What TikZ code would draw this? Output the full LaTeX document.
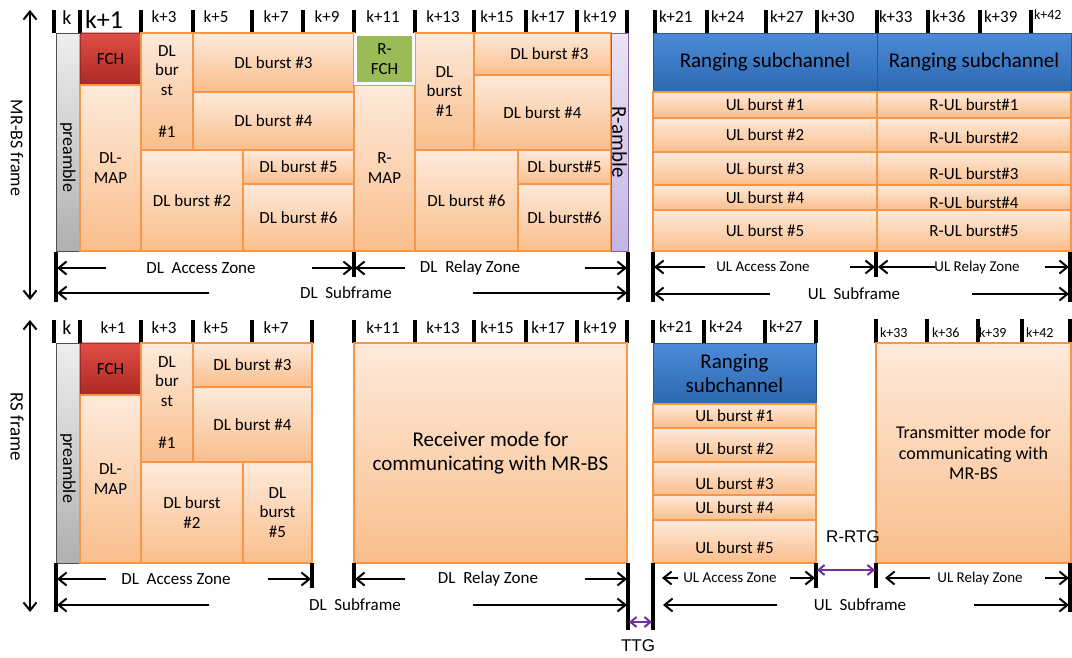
\documentclass[tikz,border=0pt]{standalone}
\usepackage{fontspec}
\setmainfont{Carlito}
\newfontfamily\arialfont{Liberation Sans}
\usetikzlibrary{arrows.meta}

\definecolor{orline}{RGB}{247,150,70}
\definecolor{ortop}{RGB}{253,234,219}
\definecolor{orbot}{RGB}{250,190,140}
\definecolor{fchtop}{RGB}{224,78,68}
\definecolor{fchbot}{RGB}{172,40,36}
\definecolor{fchline}{RGB}{140,30,30}
\definecolor{rfchgreen}{RGB}{155,187,89}
\definecolor{rngtop}{RGB}{76,139,216}
\definecolor{rngbot}{RGB}{44,104,176}
\definecolor{rngline}{RGB}{40,88,150}
\definecolor{pretop}{RGB}{238,238,238}
\definecolor{prebot}{RGB}{176,176,176}
\definecolor{preline}{RGB}{80,80,80}
\definecolor{ramtop}{RGB}{234,228,244}
\definecolor{rambot}{RGB}{196,180,226}
\definecolor{ramline}{RGB}{128,100,162}
\definecolor{gappurple}{RGB}{112,48,160}

% one block of the frame: name, x1, y1, x2, y2, style, text
\newcommand\blk[7]{%
  \pgfmathsetmacro\blkw{#4-#2}%
  \pgfmathsetmacro\blkh{#5-#3}%
  \node[#6, anchor=north west, minimum width=\blkw pt, minimum height=\blkh pt] (#1) at (#2,#3) {#7};}

% a zone dimension: name, y, left tip, left tail, right tail, right tip, label x, label style, text
\newcommand\dimpair[9]{%
  \coordinate (#1-lt) at (#3,#2);
  \coordinate (#1-lb) at (#4,#2);
  \coordinate (#1-rb) at (#5,#2);
  \coordinate (#1-rt) at (#6,#2);
  \node[#8] (#1) at (#7,#2) {#9};
  \draw[dimarr] (#1-lb) -- (#1-lt);
  \draw[dimarr] (#1-rb) -- (#1-rt);}

\tikzset{
  every node/.style={inner sep=0pt, outer sep=0pt},
  fs/.style={font=\linespread{1.15}\fontsize{#1}{#1}\selectfont},
  blk/.style={draw=orline, line width=1.2pt, top color=ortop, bottom color=orbot, align=center, fs=17},
  bigblk/.style={blk, fs=21},
  fchbox/.style={draw=fchline, line width=1pt, top color=fchtop, bottom color=fchbot, rounded corners=2pt, fs=17},
  rfchbox/.style={draw=white, line width=3.5pt, fill=rfchgreen, align=center, fs=17},
  rngbox/.style={draw=rngline, line width=0.8pt, top color=rngtop, bottom color=rngbot, align=center, fs=21},
  prebox/.style={draw=preline, line width=1pt, top color=pretop, bottom color=prebot},
  rambox/.style={draw=ramline, line width=1pt, top color=ramtop, bottom color=rambot},
  tick/.style={line width=3.5pt},
  dimbar/.style={line width=3.5pt},
  dimarr/.style={line width=2pt, -{Straight Barb[length=8pt,width=13pt]}},
  gaparr/.style={draw=gappurple, line width=2pt, {Straight Barb[length=6pt,width=10pt]}-{Straight Barb[length=6pt,width=10pt]}},
  framearr/.style={line width=2pt, {Straight Barb[length=8pt,width=13pt]}-{Straight Barb[length=8pt,width=13pt]}},
  lab/.style={fs=17},
  smalllab/.style={fs=15},
  klab/.style={fs=17},
  ksmall/.style={fs=14},
  gaplab/.style={font=\arialfont\fontsize{17}{20}\selectfont},
}

\begin{document}
\begin{tikzpicture}[x=1pt,y=-1pt]
\useasboundingbox (0,0) rectangle (1072,657);

% ---------- frame arrows on the left ----------
\coordinate (fa1t) at (30,10);
\coordinate (fa1b) at (30,300);
\draw[framearr] (fa1t) -- (fa1b);
\node[fs=18, rotate=-90] (mrbs) at (17,148) {MR-BS frame};
\coordinate (fa2t) at (30,320);
\coordinate (fa2b) at (30,612);
\draw[framearr] (fa2t) -- (fa2b);
\node[fs=19, rotate=-90] (rsf) at (17,427) {RS frame};

% ================= MR-BS frame =================
% symbol ticks
\foreach \x in {54,80,141,193,252,303,354,415,474,526,577,627,655,707,766,817,877,928,980,1031}
  \draw[tick] (\x,10) -- (\x,33);
\node[fs=20] (ta0) at (67,18) {k};
\node[fs=26] (ta1) at (104,19) {k+1};
\foreach \x/\t [count=\i] in {164/k+3,216/k+5,276/k+7,327/k+9,383/k+11,443/k+13,497/k+15,548/k+17,600/k+19}
  \node[klab] (tb\i) at (\x,17) {\t};
\foreach \x/\t [count=\i] in {659/k+21,711/k+24,770/k+27,821/k+30,879/k+33,932/k+36,984/k+39}
  \node[klab, anchor=west] (tc\i) at (\x,17) {\t};
\node[ksmall, anchor=west] (tc8) at (1034,15) {k+42};

% DL access zone
\blk{pre1}{56}{33}{80}{251}{prebox}{}
\node[fs=18, rotate=-90] (pre1t) at ([yshift=-15pt]pre1.center) {preamble};
\blk{fch1}{80}{33}{141}{85}{fchbox}{FCH}
\blk{map1}{80}{85}{141}{251}{blk}{DL-\\MAP}
\blk{b1a}{141}{33}{193}{150}{blk}{DL\\bur\\st\\[23pt]\#1}
\blk{b3a}{193}{33}{354}{92}{blk}{DL burst \#3}
\blk{b4a}{193}{92}{354}{150}{blk}{DL burst \#4}
\blk{b2a}{141}{150}{243}{251}{blk}{DL burst \#2}
\blk{b5a}{243}{150}{354}{184}{blk}{DL burst \#5}
\blk{b6a}{243}{184}{354}{251}{blk}{DL burst \#6}

% DL relay zone
\blk{rmap1}{354}{85}{415}{251}{blk}{R-\\MAP}
\blk{rb1}{415}{33}{474}{150}{blk}{DL\\burst\\\#1}
\blk{rb3}{474}{33}{611}{75}{blk}{\hspace*{14pt}DL burst \#3}
\blk{rb4}{474}{75}{611}{150}{blk}{DL burst \#4}
\blk{rb6}{415}{150}{518}{251}{blk}{DL burst \#6}
\blk{rb5r}{518}{150}{611}{184}{blk}{DL burst\#5}
\blk{rb6r}{518}{184}{611}{251}{blk}{DL burst\#6}
\blk{ramb}{611}{33}{628}{251}{rambox}{}
\node[fs=21, rotate=-90] (rambt) at (ramb.center) {R-amble};
\blk{rfch}{355.5}{34.5}{413.5}{83.5}{rfchbox}{R-\\FCH}

% UL access and relay zones
\blk{rng1}{653}{33}{877}{92}{rngbox}{Ranging subchannel}
\blk{rng2}{877}{33}{1071}{92}{rngbox}{Ranging subchannel}
\blk{ul1}{653}{92}{877}{118}{blk}{UL burst \#1}
\blk{ul2}{653}{118}{877}{152}{blk}{UL burst \#2}
\blk{ul3}{653}{152}{877}{185}{blk}{UL burst \#3}
\blk{ul4}{653}{185}{877}{210}{blk}{UL burst \#4}
\blk{ul5}{653}{210}{877}{251}{blk}{UL burst \#5}
\blk{rul1}{877}{92}{1071}{118}{blk}{R-UL burst\#1}
\blk{rul2}{877}{118}{1071}{152}{blk}{}
\node[lab] (rul2t) at ([yshift=-3pt]rul2.center) {R-UL burst\#2};
\blk{rul3}{877}{152}{1071}{185}{blk}{}
\node[lab] (rul3t) at ([yshift=-5pt]rul3.center) {R-UL burst\#3};
\blk{rul4}{877}{185}{1071}{210}{blk}{}
\node[lab] (rul4t) at ([yshift=-5pt]rul4.center) {R-UL burst\#4};
\blk{rul5}{877}{210}{1071}{251}{blk}{R-UL burst\#5}

% zone dimensions
\foreach \x/\ya/\yb in {56/252/302,354/252/277,628/252/302,653/252/302,876/252/277,1070/252/302}
  \draw[dimbar] (\x,\ya) -- (\x,\yb);
\dimpair{dza}{268}{57}{106}{312}{353}{201}{lab}{DL\ \ Access Zone}
\dimpair{dzr}{268}{355}{405}{585}{627}{470}{lab}{DL\ \ Relay Zone}
\dimpair{dsf}{293}{57}{209}{473}{627}{346}{lab}{DL\ \ Subframe}
\dimpair{uza}{267}{654}{705}{850}{875}{763}{smalllab}{UL Access Zone}
\dimpair{uzr}{267}{878}{935}{1045}{1069}{977}{smalllab}{UL Relay Zone}
\dimpair{usf}{294}{654}{770}{972}{1069}{854}{lab}{UL\ \ Subframe}

% ================= RS frame =================
\foreach \x in {54,80,141,193,252,312,354,415,474,526,577,627,653,704,765,816}
  \draw[tick] (\x,320) -- (\x,343);
\foreach \x in {876,927,978,1022,1070}
  \draw[tick] (\x,319) -- (\x,343);
\node[fs=20] (sa0) at (67,328) {k};
\foreach \x/\t [count=\i] in {113/k+1,164/k+3,216/k+5,276/k+7,383/k+11,443/k+13,497/k+15,548/k+17,600/k+19}
  \node[klab] (sb\i) at (\x,328) {\t};
\foreach \x/\t [count=\i] in {659/k+21,709/k+24,769/k+27}
  \node[klab, anchor=west] (sc\i) at (\x,327) {\t};
\foreach \x/\t [count=\i] in {880/k+33,932/k+36,979/k+39,1026/k+42}
  \node[ksmall, anchor=west] (sd\i) at (\x,333) {\t};

\blk{pre2}{56}{343}{80}{563}{prebox}{}
\node[fs=18, rotate=-90] (pre2t) at ([yshift=-15pt]pre2.center) {preamble};
\blk{fch2}{80}{343}{141}{395}{fchbox}{FCH}
\blk{map2}{80}{395}{141}{563}{blk}{DL-\\MAP}
\blk{b1b}{141}{343}{193}{462}{blk}{DL\\bur\\st\\[23pt]\#1}
\blk{b3b}{193}{343}{312}{387}{blk}{DL burst \#3}
\blk{b4b}{193}{387}{312}{462}{blk}{DL burst \#4}
\blk{b2b}{141}{462}{243}{563}{blk}{DL burst\\\#2}
\blk{b5b}{243}{462}{312}{563}{blk}{DL\\burst\\\#5}
\blk{rx}{354}{343}{627}{563}{bigblk}{Receiver mode for\\communicating with MR-BS}
\blk{rng3}{653}{343}{816}{404}{rngbox}{Ranging\\subchannel}
\blk{su1}{653}{404}{816}{428}{blk}{UL burst \#1}
\blk{su2}{653}{428}{816}{462}{blk}{}
\node[lab] (su2t) at ([yshift=-4pt]su2.center) {UL burst \#2};
\blk{su3}{653}{462}{816}{495}{blk}{}
\node[lab] (su3t) at ([yshift=-5pt]su3.center) {UL burst \#3};
\blk{su4}{653}{495}{816}{520}{blk}{UL burst \#4}
\blk{su5}{653}{520}{816}{563}{blk}{}
\node[lab] (su5t) at ([yshift=-6pt]su5.center) {UL burst \#5};
\blk{tx}{876}{343}{1071}{563}{bigblk, fs=18}{Transmitter mode for\\communicating with\\MR-BS}

\foreach \x/\ya/\yb in {56/563/612,312/563/588,354/563/588,628/563/630,653/563/630,816/563/588,876/563/588,1070/563/612}
  \draw[dimbar] (\x,\ya) -- (\x,\yb);
\dimpair{sza}{579}{57}{106}{268}{311}{176}{lab}{DL\ \ Access Zone}
\dimpair{szr}{579}{355}{405}{585}{627}{488}{lab}{DL\ \ Relay Zone}
\dimpair{ssf}{605}{57}{209}{473}{627}{355}{lab}{DL\ \ Subframe}
\dimpair{uaz}{578}{662}{678}{790}{815}{730}{smalllab}{UL Access Zone}
\dimpair{urz}{578}{885}{930}{1045}{1069}{980}{smalllab}{UL Relay Zone}
\dimpair{usb}{605}{663}{777}{974}{1069}{860}{lab}{UL\ \ Subframe}

% transition gaps
\coordinate (ttgl) at (629,622);
\coordinate (ttgr) at (652,622);
\draw[gaparr] (ttgl) -- (ttgr);
\node[gaplab] (ttg) at (638,646) {TTG};
\coordinate (rtgl) at (817,570);
\coordinate (rtgr) at (875,570);
\draw[gaparr] (rtgl) -- (rtgr);
\node[gaplab] (rrtg) at (853,537) {R-RTG};
\end{tikzpicture}
\end{document}
